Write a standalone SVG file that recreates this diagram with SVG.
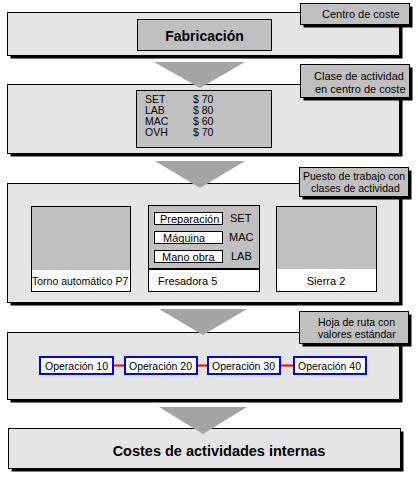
<svg xmlns="http://www.w3.org/2000/svg" width="418" height="479" viewBox="0 0 418 479">
<style>
.panel{fill:#e5e5e5;stroke:#000;stroke-width:1}
.shadow{fill:#000}
.lbl{fill:#c0c0c0;stroke:#000;stroke-width:1}
.gbox{fill:#c0c0c0;stroke:#000;stroke-width:1}
.wbox{fill:#fff;stroke:#000;stroke-width:1}
.op{fill:#fff;stroke:#0000ff;stroke-width:2}
.arrow{fill:#a4a4a4}
.link{stroke:#ff0000;stroke-width:2}
text{font-family:"Liberation Sans",Arial,sans-serif;font-size:11px;fill:#000}
.sm{font-size:10.5px}
.big{font-weight:bold;font-size:14px}
</style>
<rect width="418" height="479" fill="#fff"/>

<g id="panel-fabricacion">
<rect class="shadow" x="10.5" y="15.5" width="392" height="43"/>
<rect class="panel" x="7.5" y="12.5" width="392" height="43"/>
<rect class="gbox" x="137.5" y="19.5" width="134" height="31"/>
<text class="big" x="204.5" y="41" text-anchor="middle">Fabricación</text>
</g>
<g id="label-centro">
<rect class="shadow" x="303.5" y="6.5" width="109" height="21"/>
<rect class="lbl" x="300.5" y="3.5" width="109" height="21"/>
<text x="322" y="18">Centro de coste</text>
</g>

<g id="panel-clase">
<rect class="shadow" x="10.5" y="87.5" width="392" height="69"/>
<rect class="panel" x="7.5" y="84.5" width="392" height="69"/>
<rect class="gbox" x="136.5" y="90.5" width="135" height="57"/>
<text class="sm" x="145" y="103">SET</text><text class="sm" x="193" y="103">$ 70</text>
<text class="sm" x="145" y="114">LAB</text><text class="sm" x="193" y="114">$ 80</text>
<text class="sm" x="145" y="125">MAC</text><text class="sm" x="193" y="125">$ 60</text>
<text class="sm" x="145" y="136">OVH</text><text class="sm" x="193" y="136">$ 70</text>
</g>
<g id="label-clase">
<rect class="shadow" x="303.5" y="67.5" width="109" height="33"/>
<rect class="lbl" x="300.5" y="64.5" width="109" height="33"/>
<text x="314" y="80">Clase de actividad</text>
<text x="315" y="93">en centro de coste</text>
</g>

<g id="panel-puesto">
<rect class="shadow" x="10.5" y="186.5" width="392" height="119"/>
<rect class="panel" x="7.5" y="183.5" width="392" height="119"/>
</g>
<g id="torno">
<rect x="31.5" y="206.5" width="99" height="85" fill="#fff" stroke="#000"/>
<rect x="32" y="207" width="98" height="63" fill="#c0c0c0"/>
<text x="32" y="285" style="font-size:10.5px">Torno automático P7</text>
</g>
<g id="fresadora">
<rect x="148.5" y="205.5" width="111" height="86" fill="#fff" stroke="#000"/>
<rect x="149" y="206" width="110" height="63" fill="#c0c0c0"/>
<line x1="149" y1="269" x2="259" y2="269" stroke="#000" stroke-width="2"/>
<rect class="wbox" x="154.5" y="212.5" width="68" height="12"/>
<text x="160" y="222.5">Preparación</text>
<text x="230" y="222">SET</text>
<rect class="wbox" x="154.5" y="231.5" width="68" height="12"/>
<text x="163" y="241.5">Máquina</text>
<text x="229" y="241">MAC</text>
<text x="231" y="260">LAB</text>
<rect class="wbox" x="154.5" y="250.5" width="68" height="12"/>
<text x="162" y="260.5">Mano obra</text>
<text x="158" y="285">Fresadora 5</text>
</g>
<g id="sierra">
<rect x="276.5" y="206.5" width="100" height="85" fill="#fff" stroke="#000"/>
<rect x="277" y="207" width="99" height="62" fill="#c0c0c0"/>
<text x="326" y="285" text-anchor="middle">Sierra 2</text>
</g>
<g id="label-puesto">
<rect class="shadow" x="302.5" y="170.5" width="109" height="29"/>
<rect class="lbl" x="299.5" y="167.5" width="109" height="29"/>
<text class="sm" x="303" y="180">Puesto de trabajo con</text>
<text class="sm" x="311" y="192">clases de actividad</text>
</g>

<g id="panel-hoja">
<rect class="shadow" x="10.5" y="335.5" width="392" height="67"/>
<rect class="panel" x="7.5" y="332.5" width="392" height="67"/>
</g>
<g id="op10"><rect class="op" x="40" y="357" width="73" height="17"/><text class="sm" x="45" y="369.5">Operación 10</text></g>
<g id="op20"><rect class="op" x="125" y="357" width="72" height="17"/><text class="sm" x="129" y="369.5">Operación 20</text></g>
<g id="op30"><rect class="op" x="208" y="357" width="72" height="17"/><text class="sm" x="212" y="369.5">Operación 30</text></g>
<g id="op40"><rect class="op" x="294" y="357" width="72" height="17"/><text class="sm" x="298" y="369.5">Operación 40</text></g>
<g id="label-hoja">
<rect class="shadow" x="302.5" y="314.5" width="109" height="32"/>
<rect class="lbl" x="299.5" y="311.5" width="109" height="32"/>
<text class="sm" x="318" y="326">Hoja de ruta con</text>
<text class="sm" x="318" y="338">valores estándar</text>
</g>

<g id="panel-costes">
<rect class="shadow" x="11.5" y="431.5" width="392" height="40"/>
<rect class="panel" x="8.5" y="428.5" width="392" height="40"/>
<text class="big" x="219" y="456" text-anchor="middle" style="font-size:14.5px">Costes de actividades internas</text>
</g>

<g id="connectors">
<polygon class="arrow" points="154,62 245,62 200,88"/>
<polygon class="arrow" points="155,161 245,161 200,188"/>
<polygon class="arrow" points="159,309 247,309 203,335"/>
<polygon class="arrow" points="159,407 247,407 203,434"/>
<line class="link" x1="114" y1="365.5" x2="124" y2="365.5"/>
<line class="link" x1="198" y1="365.5" x2="207" y2="365.5"/>
<line class="link" x1="281" y1="365.5" x2="293" y2="365.5"/>
</g>
</svg>
